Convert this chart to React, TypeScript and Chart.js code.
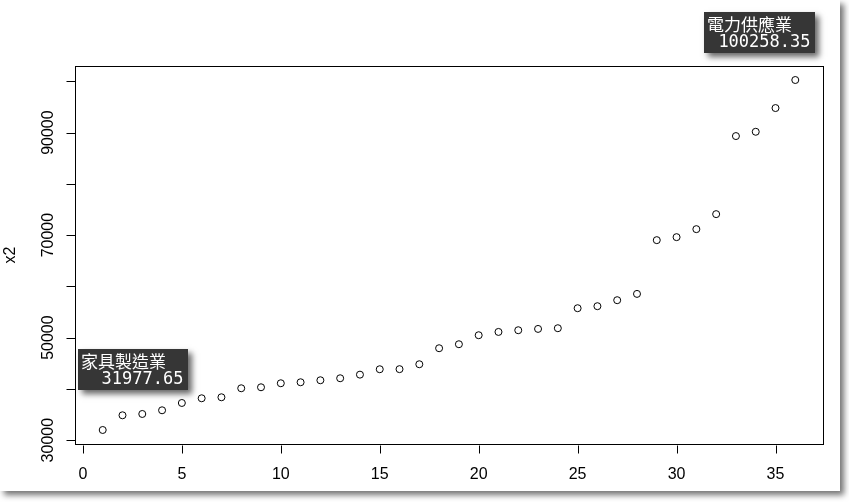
import { useEffect, useRef } from "react";
import { Chart, registerables } from "chart.js";

Chart.register(...registerables);

const indexValues = [
  1, 2, 3, 4, 5, 6, 7, 8, 9, 10, 11, 12, 13, 14, 15, 16, 17, 18,
  19, 20, 21, 22, 23, 24, 25, 26, 27, 28, 29, 30, 31, 32, 33, 34, 35, 36,
];
const x2Values = [
  31977.65, 34848, 35102, 35824, 37249, 38167, 38362, 40119, 40314, 41096,
  41291, 41681, 42072, 42775, 43829, 43850, 44805, 47929, 48710, 50467,
  51111, 51443, 51697, 51834, 55738, 56129, 57300, 58530, 69014, 69600,
  71162, 74090, 89319, 90158, 94785, 100258.35,
];
const xTickValues = [0, 5, 10, 15, 20, 25, 30, 35];
const yTickValues = [30000, 40000, 50000, 60000, 70000, 80000, 90000, 100000];
const yTickLabels = ["30000", "", "50000", "", "70000", "", "90000", ""];
const yAxisTitle = "x2";
const xMin = -0.4;
const xMax = 37.4;
const yMin = 29246;
const yMax = 102990;
const annotationNames = ["家具製造業", "電力供應業"];
const annotationValues = ["31977.65", "100258.35"];
const annotationIndexes = [0, 35];

const axisFont = '16px "Liberation Sans", Arial, sans-serif';

const rPlotPlugin = {
  id: "rPlot",
  afterDraw(chart: any) {
    const ctx: CanvasRenderingContext2D = chart.ctx;
    const { left, top, right, bottom } = chart.chartArea;
    const xs = chart.scales.x;
    const ys = chart.scales.y;
    ctx.save();
    ctx.strokeStyle = "#000";
    ctx.lineWidth = 1;
    const L = Math.round(left) + 0.5;
    const T = Math.round(top) + 0.5;
    const R = Math.round(right) + 0.5;
    const B = Math.round(bottom) + 0.5;
    ctx.strokeRect(L, T, R - L, B - T);

    // x ticks
    ctx.fillStyle = "#000";
    ctx.font = axisFont;
    ctx.textAlign = "center";
    ctx.textBaseline = "alphabetic";
    ctx.beginPath();
    for (const v of xTickValues) {
      const px = Math.round(xs.getPixelForValue(v)) + 0.5;
      ctx.moveTo(px, B + 1);
      ctx.lineTo(px, B + 9);
    }
    ctx.stroke();
    for (const v of xTickValues) {
      const px = xs.getPixelForValue(v);
      ctx.fillText(String(v), px, bottom + 35);
    }

    // y ticks
    ctx.beginPath();
    for (const v of yTickValues) {
      const py = Math.round(ys.getPixelForValue(v)) + 0.5;
      ctx.moveTo(L, py);
      ctx.lineTo(L - 9, py);
    }
    ctx.stroke();
    yTickValues.forEach((v, i) => {
      const label = yTickLabels[i];
      if (!label) return;
      const py = ys.getPixelForValue(v);
      ctx.save();
      ctx.translate(left - 22.5, py);
      ctx.rotate(-Math.PI / 2);
      ctx.fillText(label, 0, 0);
      ctx.restore();
    });

    // axis title
    ctx.save();
    ctx.translate(15, (top + bottom) / 2);
    ctx.rotate(-Math.PI / 2);
    ctx.fillText(yAxisTitle, 0, 0);
    ctx.restore();

    // annotations
    const offsets = [
      { dx: -25, dy: -81, w: 110, h: 41 },
      { dx: -91, dy: -68, w: 111, h: 41 },
    ];
    annotationIndexes.forEach((idx, i) => {
      const px = xs.getPixelForValue(indexValues[idx]);
      const py = ys.getPixelForValue(x2Values[idx]);
      const o = offsets[i];
      const bx = Math.round(px + o.dx);
      const by = Math.round(py + o.dy);
      ctx.save();
      ctx.shadowColor = "rgba(0,0,0,0.6)";
      ctx.shadowBlur = 6;
      ctx.shadowOffsetX = 4;
      ctx.shadowOffsetY = 4;
      ctx.fillStyle = "#363636";
      ctx.fillRect(bx, by, o.w, o.h);
      ctx.restore();
      ctx.fillStyle = "#fff";
      ctx.textBaseline = "middle";
      ctx.textAlign = "left";
      ctx.font = '17px "Noto Sans CJK TC", "Noto Sans CJK SC", sans-serif';
      ctx.fillText(annotationNames[i], bx + 3, by + 12.5);
      ctx.textAlign = "right";
      ctx.font = '17px "DejaVu Sans Mono", monospace';
      ctx.fillText(annotationValues[i], bx + o.w - 4.5, by + 30.5);
    });
    ctx.restore();
  },
};

export default function App() {
  const canvasRef = useRef<HTMLCanvasElement | null>(null);

  useEffect(() => {
    const canvas = canvasRef.current;
    if (!canvas) return;
    const chart = new Chart(canvas, {
      type: "scatter",
      data: {
        datasets: [
          {
            data: indexValues.map((x, i) => ({ x, y: x2Values[i] })),
            pointStyle: "circle",
            pointRadius: 3.5,
            pointHoverRadius: 3.5,
            borderWidth: 1,
            borderColor: "#000",
            backgroundColor: "rgba(0,0,0,0)",
            showLine: false,
          },
        ],
      },
      options: {
        responsive: false,
        animation: false,
        devicePixelRatio: 1,
        events: [],
        layout: { padding: { left: 75, right: 26, top: 66, bottom: 58 } },
        plugins: { legend: { display: false }, tooltip: { enabled: false } },
        scales: {
          x: { type: "linear", display: false, min: xMin, max: xMax },
          y: { type: "linear", display: false, min: yMin, max: yMax },
        },
      },
      plugins: [rPlotPlugin],
    });
    return () => chart.destroy();
  }, []);

  return (
    <div style={{ position: "absolute", left: 0, top: 0, width: 849, height: 502, background: "#fff", overflow: "hidden" }}>
      <div
        style={{
          position: "absolute",
          left: 0,
          top: 0,
          width: 840,
          height: 491,
          background: "#fff",
          boxShadow: "4px 4px 6px rgba(0,0,0,0.55)",
        }}
      />
      <canvas
        ref={canvasRef}
        width={849}
        height={502}
        style={{ position: "absolute", left: 0, top: 0, width: 849, height: 502 }}
      />
    </div>
  );
}
